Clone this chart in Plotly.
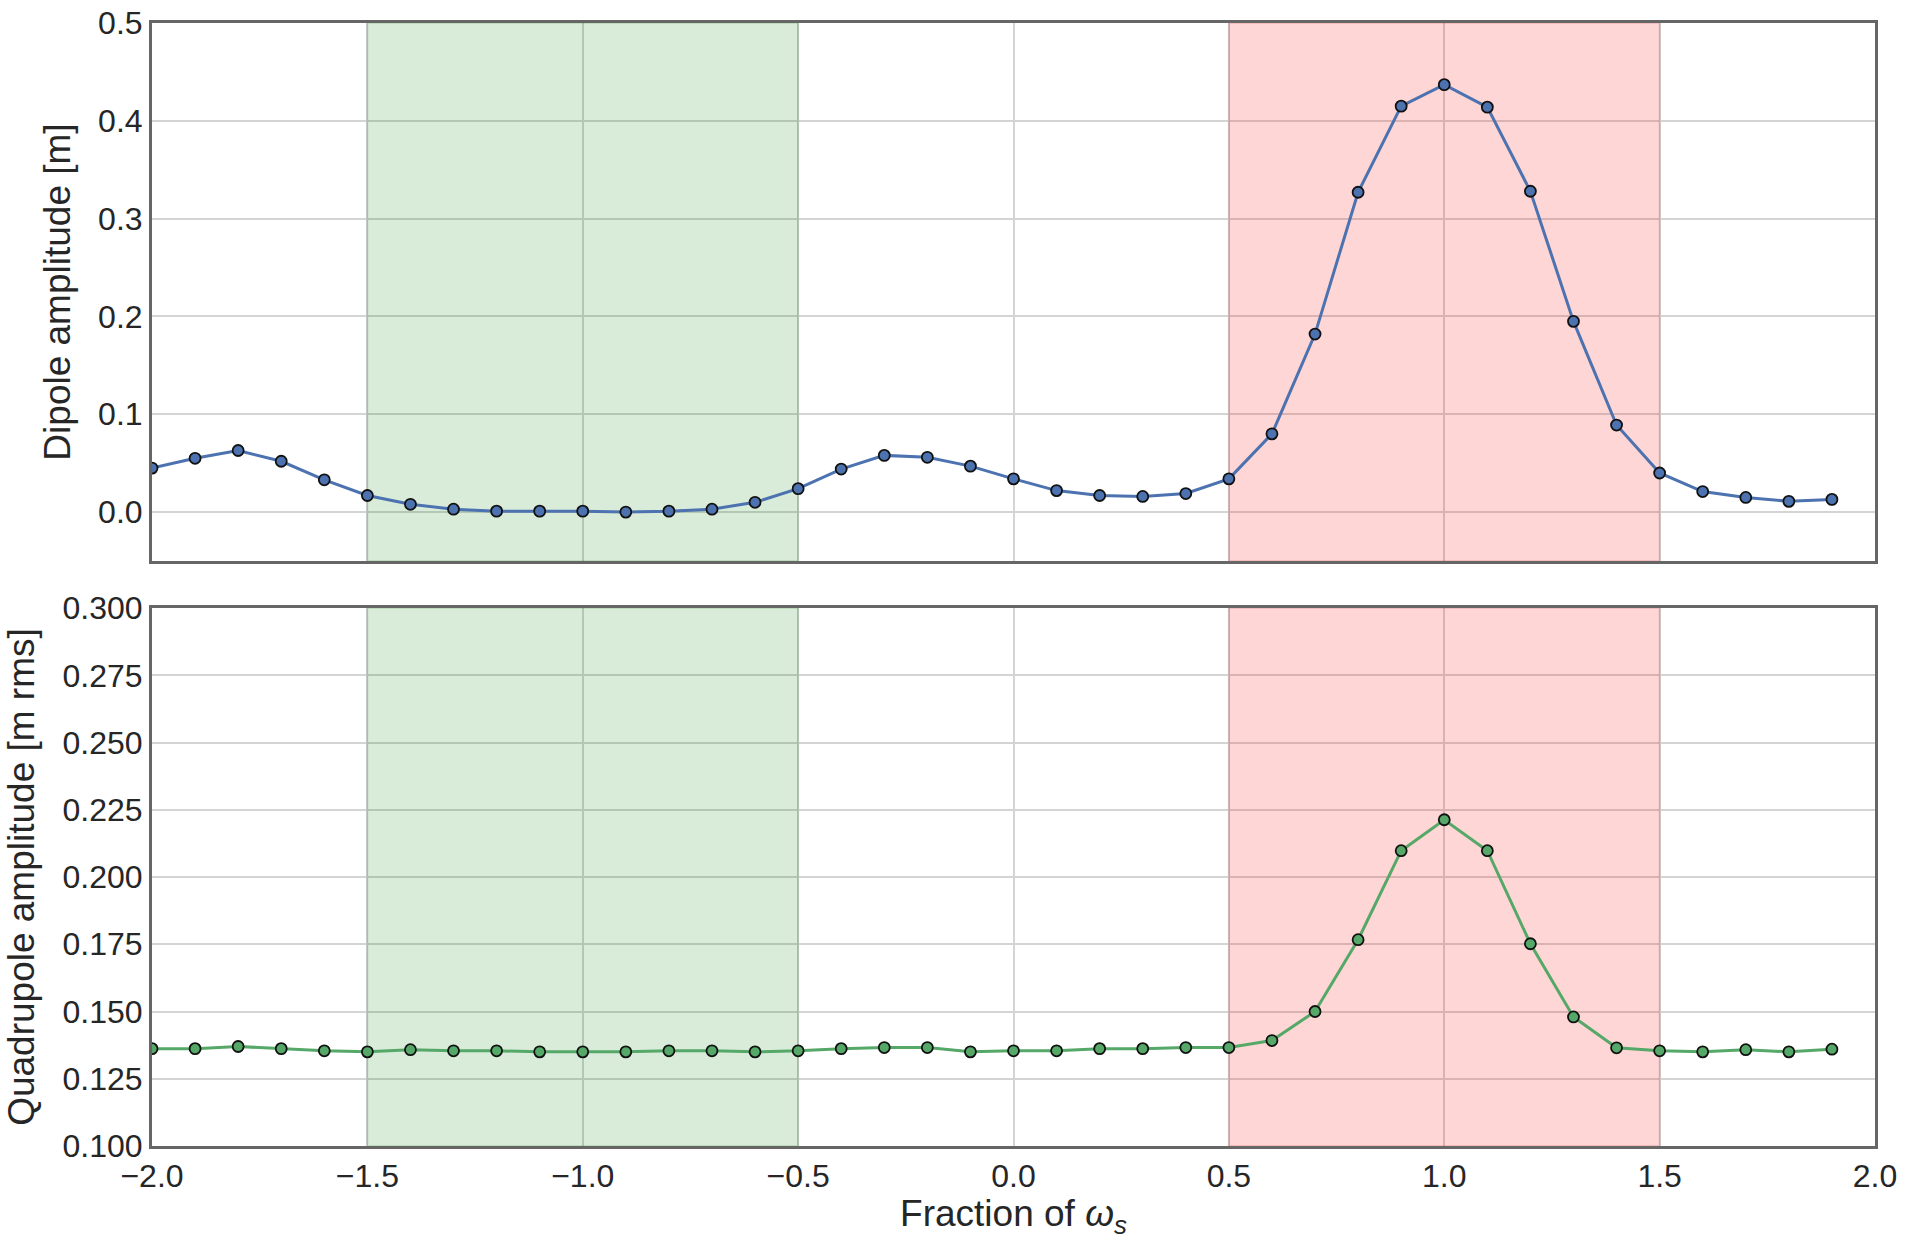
import plotly.graph_objects as go

x_vals = [round(-2.0 + 0.1 * i, 1) for i in range(40)]

dipole = [0.045, 0.055, 0.063, 0.052, 0.033, 0.017, 0.008, 0.003, 0.001, 0.001,
          0.001, 0.000, 0.001, 0.003, 0.010, 0.024, 0.044, 0.058, 0.056, 0.047,
          0.034, 0.022, 0.017, 0.016, 0.019, 0.034, 0.080, 0.182, 0.327, 0.415,
          0.437, 0.414, 0.328, 0.195, 0.089, 0.040, 0.021, 0.015, 0.011, 0.013]

quadrupole = [0.1362, 0.1362, 0.1370, 0.1362, 0.1354, 0.1350, 0.1358, 0.1354, 0.1354, 0.1350,
              0.1350, 0.1350, 0.1354, 0.1354, 0.1350, 0.1354, 0.1362, 0.1366, 0.1366, 0.1350,
              0.1354, 0.1354, 0.1362, 0.1362, 0.1366, 0.1366, 0.1392, 0.1500, 0.1767, 0.2098,
              0.2213, 0.2098, 0.1752, 0.1480, 0.1365, 0.1354, 0.1350, 0.1358, 0.1350, 0.1360]

x_ticks = [-2.0, -1.5, -1.0, -0.5, 0.0, 0.5, 1.0, 1.5, 2.0]
x_ticklabels = ["−2.0", "−1.5", "−1.0", "−0.5", "0.0", "0.5", "1.0", "1.5", "2.0"]
y1_ticks = [0.0, 0.1, 0.2, 0.3, 0.4, 0.5]
y1_ticklabels = ["0.0", "0.1", "0.2", "0.3", "0.4", "0.5"]
y2_ticks = [0.100, 0.125, 0.150, 0.175, 0.200, 0.225, 0.250, 0.275, 0.300]
y2_ticklabels = ["0.100", "0.125", "0.150", "0.175", "0.200", "0.225", "0.250", "0.275", "0.300"]

x_range = [-2.0, 2.0]
y1_range = [-0.05, 0.5]
y2_range = [0.1, 0.3]

green_span = (-1.5, -0.5)
red_span = (0.5, 1.5)

BLUE = "#4C72B0"
GREEN = "#55A868"
FONT = "Liberation Sans, Arial, sans-serif"
TXT = "#262626"

fig = go.Figure()


def add_span(span, yr, xaxis, yaxis, fill, edge):
    a, b = span
    lo, hi = yr
    fig.add_trace(go.Scatter(
        x=[a, a, b, b, a], y=[lo, hi, hi, lo, lo], mode="lines", fill="toself",
        fillcolor=fill, line=dict(color=edge, width=2),
        xaxis=xaxis, yaxis=yaxis, hoverinfo="skip", showlegend=False))


for xa, ya, yr in [("x", "y", y1_range), ("x2", "y2", y2_range)]:
    add_span(green_span, yr, xa, ya, "rgba(0,128,0,0.15)", "rgba(0,100,0,0.12)")
    add_span(red_span, yr, xa, ya, "rgba(255,0,0,0.16)", "rgba(150,0,0,0.12)")

fig.add_trace(go.Scatter(
    x=x_vals, y=dipole, mode="lines+markers", xaxis="x", yaxis="y",
    line=dict(color=BLUE, width=3),
    marker=dict(color=BLUE, size=11, line=dict(color="#111111", width=1.8)),
    showlegend=False))

fig.add_trace(go.Scatter(
    x=x_vals, y=quadrupole, mode="lines+markers", xaxis="x2", yaxis="y2",
    line=dict(color=GREEN, width=3),
    marker=dict(color=GREEN, size=11, line=dict(color="#111111", width=1.8)),
    showlegend=False))

axis_common = dict(showline=True, mirror=True, linecolor="#666666", linewidth=3,
                   showgrid=True, gridcolor="#d4d4d4", gridwidth=1.5, zeroline=False,
                   ticks="", automargin=False, ticklabeloverflow="allow",
                   tickfont=dict(family=FONT, size=32, color=TXT))

fig.update_layout(
    width=1905, height=1239,
    margin=dict(l=152, r=30, t=23, b=93),
    paper_bgcolor="white", plot_bgcolor="white",
    font=dict(family=FONT, color=TXT),
    xaxis=dict(domain=[0, 1], range=x_range, tickvals=x_ticks, ticktext=x_ticklabels,
               showticklabels=False, anchor="y", **axis_common),
    yaxis=dict(domain=[0.5209, 1.0], range=y1_range, tickvals=y1_ticks,
               ticktext=y1_ticklabels, anchor="x",
               title=dict(text="Dipole amplitude [m]", font=dict(family=FONT, size=37, color=TXT), standoff=17),
               **axis_common),
    xaxis2=dict(domain=[0, 1], range=x_range, tickvals=x_ticks, ticktext=x_ticklabels,
                anchor="y2", matches="x",
                title=dict(text="Fraction of <i>ω</i><sub><i>s</i></sub>", font=dict(family=FONT, size=37, color=TXT), standoff=24),
                **axis_common),
    yaxis2=dict(domain=[0.0, 0.479], range=y2_range, tickvals=y2_ticks,
                ticktext=y2_ticklabels, anchor="x2",
                title=dict(text="Quadrupole amplitude [m rms]", font=dict(family=FONT, size=37, color=TXT), standoff=17),
                **axis_common),
)

fig.write_html("out.html", config={"displayModeBar": False},
               post_script="document.body.style.margin='0';document.body.style.overflow='hidden';")
